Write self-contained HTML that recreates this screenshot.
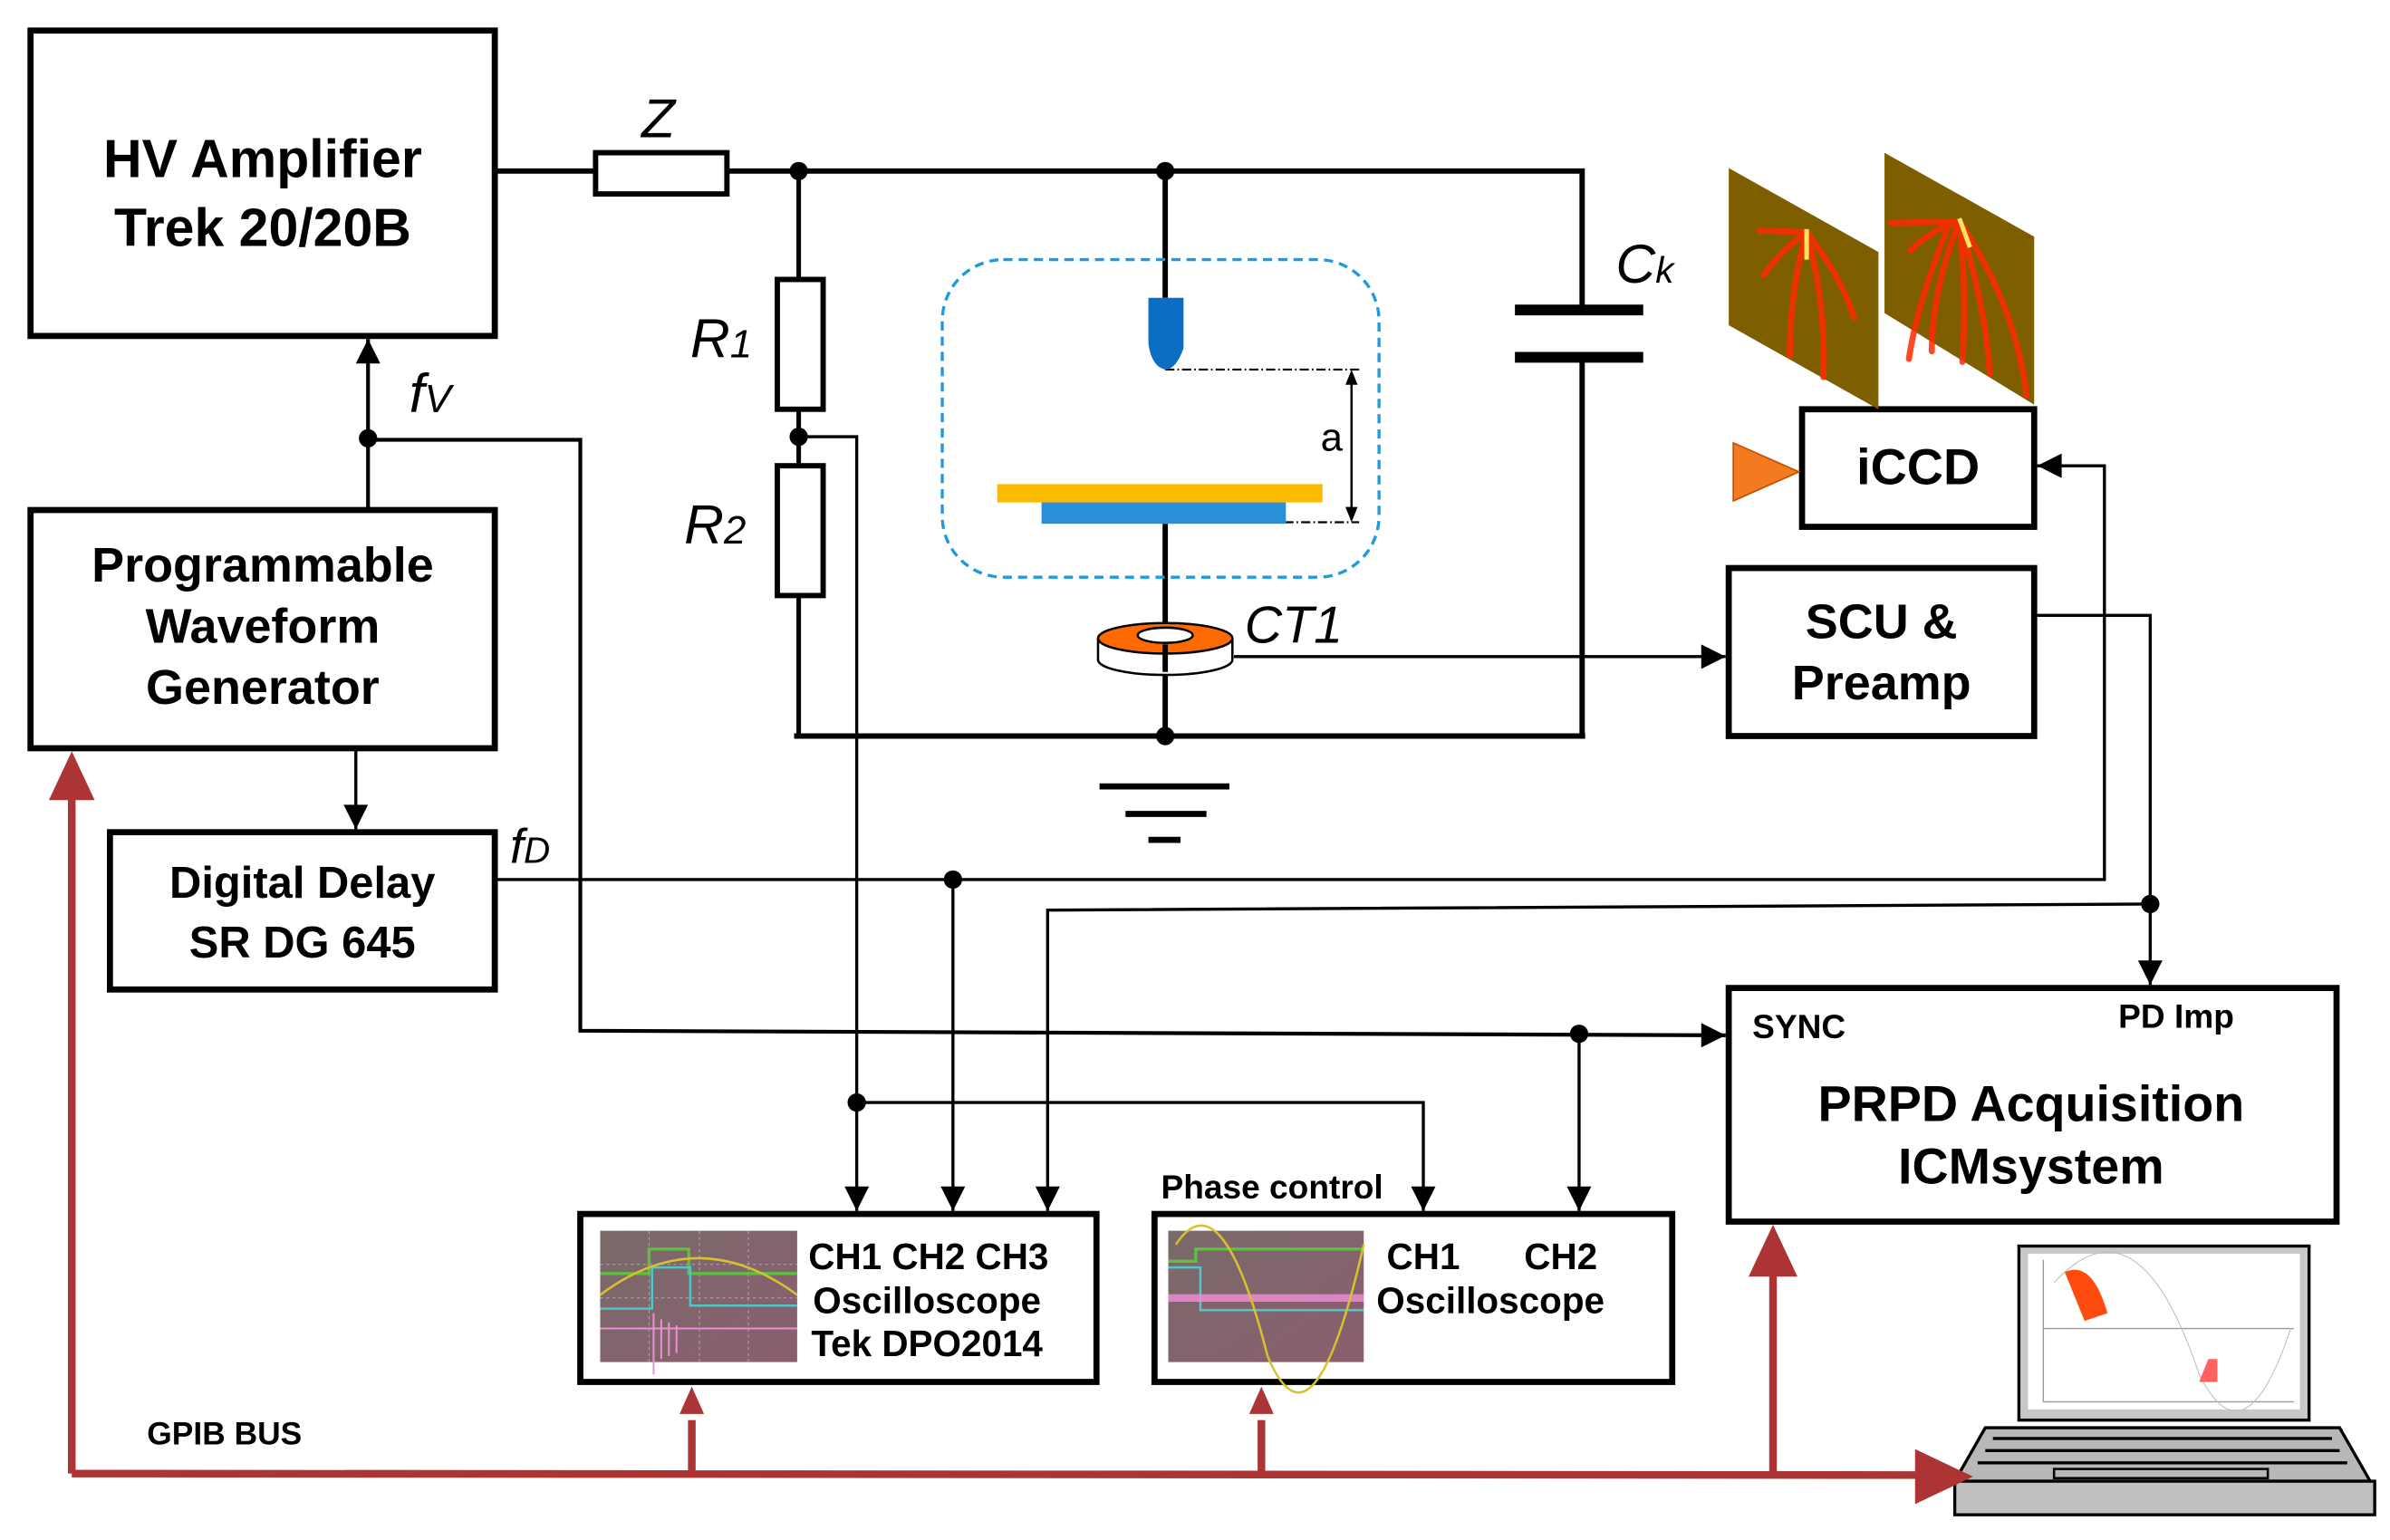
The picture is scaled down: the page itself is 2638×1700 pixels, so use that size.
<!DOCTYPE html>
<html><head><meta charset="utf-8"><style>
html,body{margin:0;padding:0;background:#fff}
svg{display:block}
text{font-family:"Liberation Sans",Arial,sans-serif}
</style></head><body>
<svg width="2638" height="1700" viewBox="0 0 1565 1008.5" xmlns="http://www.w3.org/2000/svg">
<defs>
<marker id="ahb" viewBox="0 0 10 10" refX="10" refY="5" markerWidth="18" markerHeight="16" orient="auto" markerUnits="userSpaceOnUse"><path d="M0,0 L10,5 L0,10z" fill="#000"/></marker>
<linearGradient id="osc" x1="0" y1="0" x2="1" y2="1"><stop offset="0" stop-color="#7a6a6a"/><stop offset="1" stop-color="#8a5e6e"/></linearGradient>
</defs>
<g fill="none" stroke="#000">
<rect x="20" y="20" width="304" height="200" stroke-width="4"/>
<rect x="20" y="334" width="304" height="156" stroke-width="4"/>
<rect x="72" y="545" width="252" height="103" stroke-width="4"/>
<rect x="1132" y="372" width="200" height="110" stroke-width="4"/>
<rect x="1180" y="268" width="152" height="77" stroke-width="4"/>
<rect x="1132" y="647" width="398" height="153" stroke-width="4"/>
<rect x="380" y="795" width="338" height="110" stroke-width="4"/>
<rect x="756" y="795" width="339" height="110" stroke-width="4"/>
<path d="M324,112H390M476,112H1036V203M1036,234V482M520,482H1038" stroke-width="3.5"/>
<rect x="390" y="100" width="86" height="27" stroke-width="3.5"/>
<path d="M523,112V183M523,268V305M523,390V482" stroke-width="3"/>
<rect x="509" y="183" width="30" height="85" stroke-width="3.5"/>
<rect x="509" y="305" width="30" height="85" stroke-width="3.5"/>
<path d="M992,203H1076M992,234H1076" stroke-width="7"/>
<path d="M763,112V195M763,343V482" stroke-width="3.5"/>
<path d="M720,515H805M737,533H790M752,550H773" stroke-width="4"/>
<rect x="617" y="170" width="286" height="208" rx="40" stroke="#1e9be0" stroke-width="2" stroke-dasharray="6,4"/>
<path d="M763,242H890M830,342H890" stroke-width="1.3" stroke-dasharray="6,2,1,2"/>
<path d="M885,250V336" stroke-width="1.5"/>
<path d="M885,242l-4,10h8z M885,342l-4,-10h8z" fill="#000" stroke="none"/>
<path d="M808,430H1130" stroke-width="2" marker-end="url(#ahb)"/>
<path d="M1332,403H1408V645" stroke-width="2" marker-end="url(#ahb)"/>
<path d="M324,576H1378V305H1334" stroke-width="2" marker-end="url(#ahb)"/>
<path d="M241,333V222" stroke-width="2.5" marker-end="url(#ahb)"/>
<path d="M241,288H380V675L1130,678" stroke-width="2.5" marker-end="url(#ahb)"/>
<path d="M1034,677V793" stroke-width="2" marker-end="url(#ahb)"/>
<path d="M233,490V543" stroke-width="2" marker-end="url(#ahb)"/>
<path d="M624,576V793" stroke-width="2" marker-end="url(#ahb)"/>
<path d="M1408,592L686,596V793" stroke-width="2" marker-end="url(#ahb)"/>
<path d="M523,286H561V793" stroke-width="2" marker-end="url(#ahb)"/>
<path d="M561,722H932V793" stroke-width="2" marker-end="url(#ahb)"/>
</g>
<g fill="#000">
<circle cx="523" cy="112" r="6"/><circle cx="763" cy="112" r="6"/><circle cx="523" cy="286" r="6"/>
<circle cx="763" cy="482" r="6"/><circle cx="241" cy="287" r="6"/><circle cx="624" cy="576" r="6"/>
<circle cx="1408" cy="592" r="6"/><circle cx="1034" cy="677" r="6"/><circle cx="561" cy="722" r="6"/>
</g>
<path d="M752,195H775V228Q770,242 763,242Q754,240 752,225Z" fill="#0a6fc2"/>
<rect x="653" y="317" width="213" height="12" fill="#fdbb00"/>
<rect x="682" y="329" width="160" height="14" fill="#2a8fda"/>
<g stroke="#000" stroke-width="1.5">
<path d="M719,418V432A44,10 0 0 0 807,432V418" fill="#fff"/>
<ellipse cx="763" cy="418" rx="44" ry="10" fill="#ff6a00"/>
<ellipse cx="763" cy="416" rx="18" ry="5" fill="#fff"/>
</g>
<path d="M763,422V440" stroke="#000" stroke-width="3.5"/>
<polygon points="1132,110 1230,165 1230,268 1132,213" fill="#7d5e00"/>
<polygon points="1234,100 1332,155 1332,265 1234,205" fill="#7d5e00"/>
<g stroke="#ff2a00" stroke-width="4" fill="none" opacity="0.85" stroke-linecap="round">
<path d="M1183,152Q1172,190 1172,233M1183,152Q1196,200 1194,247M1183,152Q1205,180 1214,208M1183,152L1152,151M1183,152Q1165,165 1155,180"/>
<path d="M1283,145L1238,146M1283,145Q1265,150 1251,164M1283,145Q1265,190 1265,230M1283,145Q1288,190 1285,237M1283,145Q1300,200 1303,245M1283,145Q1320,200 1327,259M1275,150Q1255,200 1250,235"/>
</g>
<path d="M1183,150V170M1283,143L1290,162" stroke="#ffe060" stroke-width="3"/>
<polygon points="1135,290 1178,309 1135,328" fill="#f47a20" stroke="#c05000" stroke-width="1"/>
<rect x="393" y="806" width="129" height="86" fill="url(#osc)"/>
<g stroke="#aaa" stroke-width="0.6" stroke-dasharray="2,2" fill="none"><path d="M393,828H522M393,850H522M393,870H522M425,806V892M458,806V892M490,806V892"/></g>
<path d="M393,834H425V818H451V834H522" stroke="#5dc040" stroke-width="2" fill="none"/>
<path d="M393,857H427V830H452V855H522" stroke="#4cc8c8" stroke-width="1.5" fill="none"/>
<path d="M393,848Q457,800 522,848" stroke="#d8c030" stroke-width="1.5" fill="none"/>
<path d="M393,870H522M428,860V900M433,864V890M438,866V888M443,868V886" stroke="#e890d0" stroke-width="1.2" fill="none"/>
<rect x="765" y="806" width="128" height="86" fill="url(#osc)"/>
<path d="M765,826H783V818H893" stroke="#5dc040" stroke-width="2" fill="none"/>
<path d="M765,830H786V858H893" stroke="#4cc8c8" stroke-width="1.5" fill="none"/>
<path d="M765,850H893" stroke="#f090d8" stroke-width="5" fill="none" opacity="0.8"/>
<path d="M770,815Q800,770 830,888Q860,960 893,815" stroke="#d8c030" stroke-width="1.5" fill="none"/>
<rect x="1322" y="816" width="190" height="114" fill="#c8c8c8" stroke="#000" stroke-width="2"/>
<rect x="1328" y="821" width="178" height="102" fill="#fff"/>
<path d="M1338,825V918H1502M1338,870H1502" stroke="#999" stroke-width="0.8" fill="none"/>
<path d="M1345,840Q1400,780 1440,900Q1470,960 1500,870" stroke="#bbb" stroke-width="0.6" fill="none"/>
<path d="M1352,833Q1370,825 1380,860L1365,865Z" fill="#ff4a10"/>
<path d="M1440,905h12v-15h-6z" fill="#ff6060"/>
<path d="M1300,935H1532L1552,970H1280Z" fill="#b8b8b8" stroke="#000" stroke-width="2"/>
<path d="M1305,942H1527M1300,950H1532M1295,958H1537" stroke="#000" stroke-width="2"/>
<rect x="1345" y="962" width="140" height="6" fill="none" stroke="#000" stroke-width="1.5"/>
<rect x="1280" y="970" width="275" height="22" fill="#c0c0c0" stroke="#000" stroke-width="2"/>
<g stroke="#ac3434" stroke-width="5" fill="none">
<path d="M47,965V520M47,965L1255,966M453,965V930M826,965V930M1161,965V830"/>
</g>
<g fill="#ac3434">
<path d="M47,492l-15,32h30z"/><path d="M453,908l-8,18h16z"/><path d="M826,908l-8,18h16z"/>
<path d="M1161,802l-16,34h32z"/><path d="M1292,967l-38,-18v36z"/>
</g>
<g font-weight="bold" text-anchor="middle" fill="#000">
<text x="172" y="116" font-size="35">HV Amplifier</text>
<text x="172" y="161" font-size="35">Trek 20/20B</text>
<text x="172" y="381" font-size="32">Programmable</text>
<text x="172" y="421" font-size="32">Waveform</text>
<text x="172" y="461" font-size="32">Generator</text>
<text x="198" y="588" font-size="29">Digital Delay</text>
<text x="198" y="627" font-size="29">SR DG 645</text>
<text x="1232" y="418" font-size="32">SCU &amp;</text>
<text x="1232" y="458" font-size="32">Preamp</text>
<text x="1256" y="317" font-size="33">iCCD</text>
<text x="1330" y="734" font-size="33">PRPD Acquisition</text>
<text x="1330" y="775" font-size="33">ICMsystem</text>
<text x="608" y="831" font-size="24">CH1 CH2 CH3</text>
<text x="607" y="860" font-size="24">Oscilloscope</text>
<text x="607" y="888" font-size="24">Tek DPO2014</text>
<text x="932" y="831" font-size="24">CH1</text>
<text x="1022" y="831" font-size="24">CH2</text>
<text x="976" y="860" font-size="24">Oscilloscope</text>
<text x="833" y="785" font-size="22">Phase control</text>
<text x="1178" y="680" font-size="22">SYNC</text>
<text x="1425" y="673" font-size="22">PD Imp</text>
<text x="147" y="946" font-size="21">GPIB  BUS</text>
</g>
<g font-style="italic" fill="#000" font-size="36">
<text x="420" y="90">Z</text>
<text x="452" y="234">R<tspan font-size="26">1</tspan></text>
<text x="448" y="356">R<tspan font-size="26">2</tspan></text>
<text x="1058" y="185">C<tspan font-size="24">k</tspan></text>
<text x="815" y="421" font-size="34">CT1</text>
<text x="268" y="270">f<tspan font-size="26">V</tspan></text>
<text x="334" y="565" font-size="32">f<tspan font-size="24">D</tspan></text>
</g>
<text x="872" y="295" font-size="26" text-anchor="middle">a</text>
</svg>
</body></html>
